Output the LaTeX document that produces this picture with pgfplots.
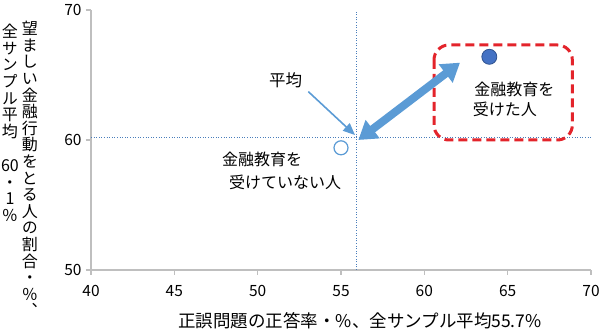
\documentclass[border=0pt]{standalone}
\usepackage{pgfplots}
\pgfplotsset{compat=1.18}
\usepackage{fontspec}
\setmainfont{Noto Sans CJK JP}
\newfontfamily\vfont[Script=CJK,RawFeature=+vert]{Noto Sans CJK JP}
\usetikzlibrary{arrows.meta}
\definecolor{ptblue}{HTML}{4472C4}
\definecolor{ptedge}{HTML}{2F528F}
\definecolor{arrblue}{HTML}{5B9BD5}
\definecolor{dotblue}{HTML}{4A7EBB}
\definecolor{boxred}{HTML}{E3242B}
\definecolor{axgray}{HTML}{BFBFBF}
\begin{document}
\begin{tikzpicture}
\begin{axis}[name=ax, at={(0,0)}, anchor=south west,
  scale only axis, width=500pt, height=260pt,
  xmin=40, xmax=70, ymin=50, ymax=70,
  xtick={40,45,50,55,60,65,70}, ytick={50,60,70},
  axis x line*=bottom, axis y line*=left,
  axis line style={axgray, line width=1.2pt},
  tick style={axgray, line width=1.2pt},
  tick align=outside, major tick length=5pt,
  ticklabel style={font=\fontsize{15.5}{18}\selectfont, text=black},
  xticklabel style={yshift=-7pt},
  yticklabel style={xshift=-1pt},
  /pgf/number format/assume math mode=true,
  clip=false]
% average lines
\addplot[dotblue, line width=0.9pt, dash pattern=on 1pt off 1.6pt] coordinates {(55.95,50) (55.95,70)};
\addplot[dotblue, line width=0.9pt, dash pattern=on 1pt off 1.6pt] coordinates {(40,60.2) (70,60.2)};
% red box
\draw[boxred, line width=3pt, dash pattern=on 9pt off 5pt, rounded corners=15pt]
  (axis cs:60.58,67.31) rectangle (axis cs:68.88,60.0);
% big double arrow
\draw[arrblue, line width=8pt, {Triangle[width=22pt,length=18pt]}-{Triangle[width=22pt,length=18pt]}]
  (axis cs:56.04,60.0) -- (axis cs:62.14,65.95);
% thin arrow
\draw[arrblue, line width=1.6pt, -{Triangle[width=10pt,length=12pt]}]
  (axis cs:53.04,63.72) -- (axis cs:55.84,60.38);
% points
\addplot[only marks, mark=*, mark size=7pt, mark options={fill=white, draw=arrblue, line width=1.2pt}] coordinates {(55.0,59.4)};
\addplot[only marks, mark=*, mark size=7.5pt, mark options={fill=ptblue, draw=ptedge, line width=0.8pt}] coordinates {(63.9,66.4)};
% labels
\node[font=\fontsize{16.5}{20}\selectfont, inner sep=0pt] at (axis cs:51.67,64.6) {平均};
\node[font=\fontsize{16}{23}\selectfont, inner sep=0pt, anchor=west, align=left] at (axis cs:47.85,57.6) {金融教育を\\\hspace{7pt}受けていない人};
\node[font=\fontsize{16}{20}\selectfont, inner sep=0pt, anchor=west, align=left] at (axis cs:62.9,63.1) {\hspace{1.5pt}金融教育を\\受けた人};
\end{axis}
% axis titles
\node[font=\fontsize{17.5}{20}\selectfont, inner sep=0pt] at ([xshift=269pt,yshift=-51pt]ax.south west) {正誤問題の正答率・\%、全サンプル平均55.7\%};
\node[font=\vfont\fontsize{16}{16.6}\selectfont, inner sep=0pt, anchor=north, align=center] at ([xshift=-61pt,yshift=-11pt]ax.north west)
  {望\\ま\\し\\い\\金\\融\\行\\動\\を\\と\\る\\人\\の\\割\\合\\・\\％\\、};
\node[font=\vfont\fontsize{16}{16.6}\selectfont, inner sep=0pt, anchor=north, align=center] at ([xshift=-81pt,yshift=-14pt]ax.north west)
  {全\\サ\\ン\\プ\\ル\\平\\均\\\strut\\60\\・\\1\\％};
\pgfresetboundingbox
\path ([xshift=-91pt,yshift=-59pt]ax.south west) rectangle ([xshift=9pt,yshift=10pt]ax.north east);
\end{tikzpicture}
\end{document}
